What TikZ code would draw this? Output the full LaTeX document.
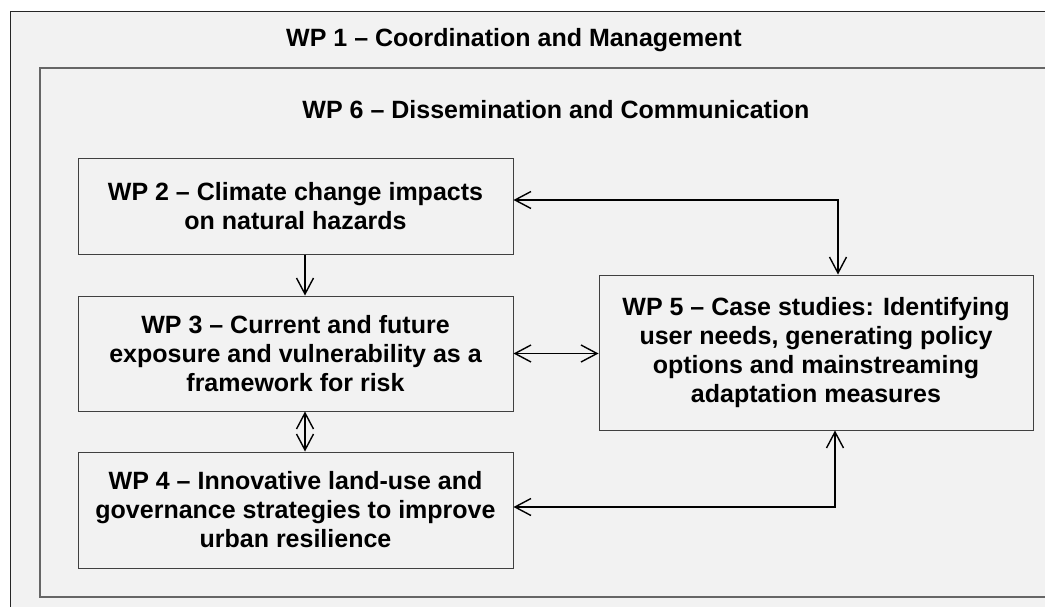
\documentclass[tikz,border=0pt]{standalone}
\usepackage{fontspec}
\setmainfont{Liberation Sans}
\usetikzlibrary{arrows.meta}
\definecolor{bgray}{HTML}{F2F2F2}
\tikzset{
  wpbox/.style={draw=black!75, line width=1pt, fill=bgray, inner sep=0pt, align=center,
    font=\bfseries\fontsize{25}{29}\selectfont},
  wptitle/.style={inner sep=0pt, font=\bfseries\fontsize{25}{29}\selectfont},
  link/.style={line width=1.4pt, {Straight Barb[length=16pt,width=17pt]}-{Straight Barb[length=16pt,width=17pt]}},
  onelink/.style={line width=1.4pt, -{Straight Barb[length=16pt,width=17pt]}},
}
\begin{document}
\begin{tikzpicture}[x=1pt,y=-1pt]
\clip (0,0) rectangle (1045,607);
\fill[white] (0,0) rectangle (1045,607);
\draw[draw=black!85, line width=1pt, fill=bgray] (10,12) rectangle (1070,640);
\draw[draw=black!60, line width=1.4pt, fill=bgray] (40,68) rectangle (1070,597);
\node[wptitle] (wp1) at (514,40) {WP 1 – Coordination and Management};
\node[wptitle] (wp6) at (556,110) {WP 6 – Dissemination and Communication};
\node[wpbox, minimum width=435pt, minimum height=95pt] (wp2) at (295.5,206.5)
  {WP 2 – Climate change impacts\\on natural hazards};
\node[wpbox, minimum width=435pt, minimum height=115pt] (wp3) at (295.5,353.5)
  {WP 3 – Current and future\\exposure and vulnerability as a\\framework for risk};
\node[wpbox, minimum width=435pt, minimum height=116pt] (wp4) at (295.5,510)
  {WP 4 – Innovative land-use and\\governance strategies to improve\\urban resilience};
\node[wpbox, minimum width=434pt, minimum height=155pt] (wp5) at (816,352.5)
  {WP 5 – Case studies: Identifying\\user needs, generating policy\\options and mainstreaming\\adaptation measures};
\draw[link] ([yshift=6.5pt]wp2.east) -| ([xshift=22pt]wp5.north);
\draw[onelink] ([xshift=9.5pt]wp2.south) -- ([xshift=9.5pt]wp3.north);
\draw[link] ([xshift=9.5pt]wp3.south) -- ([xshift=9.5pt]wp4.north);
\draw[link] (wp3.east) -- (wp3.east -| wp5.west);
\draw[link] ([yshift=3pt]wp4.east) -| ([xshift=19pt]wp5.south);
\end{tikzpicture}
\end{document}
